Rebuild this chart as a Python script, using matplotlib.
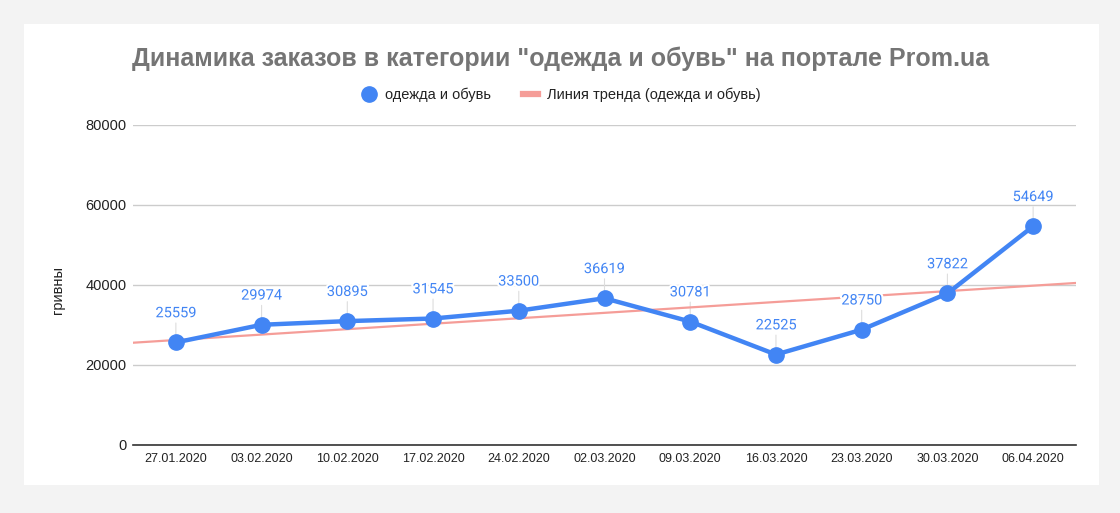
import numpy as np
import matplotlib
matplotlib.use('Agg')
import matplotlib.pyplot as plt
import matplotlib.patheffects as pe
from matplotlib.lines import Line2D
from matplotlib.patches import Rectangle

# data
dates = ['27.01.2020', '03.02.2020', '10.02.2020', '17.02.2020', '24.02.2020',
         '02.03.2020', '09.03.2020', '16.03.2020', '23.03.2020', '30.03.2020',
         '06.04.2020']
orders = [25559, 29974, 30895, 31545, 33500, 36619, 30781, 22525, 28750, 37822, 54649]
y_ticks = [0, 20000, 40000, 60000, 80000]

title = 'Динамика заказов в категории "одежда и обувь" на портале Prom.ua'
series_name = 'одежда и обувь'
trend_name = 'Линия тренда (одежда и обувь)'

blue = '#4285f4'
trend_color = '#f59d98'

plt.rcParams['font.family'] = ['Liberation Sans', 'DejaVu Sans']

fig = plt.figure(figsize=(11.2, 5.13), dpi=100, facecolor='#f3f3f3')
fig.patches.append(Rectangle((24 / 1120, 1 - 485 / 513), (1099 - 24) / 1120, (485 - 24) / 513,
                             transform=fig.transFigure, facecolor='white', edgecolor='none', zorder=-5))

ax = fig.add_axes([133 / 1120, 1 - 444.5 / 513, (1076 - 133) / 1120, (444.5 - 125) / 513])
ax.set_facecolor('none')

x = np.arange(len(dates))

# trend line (linear fit), spans the whole plot width
k, b = np.polyfit(x, orders, 1)
tx = np.array([-0.5, len(dates) - 0.5])
ax.plot(tx, k * tx + b, color=trend_color, lw=1.6, zorder=2)

ax.plot(x, orders, color=blue, lw=3.2, marker='o', ms=11, zorder=3, solid_capstyle='round')

for xi, v in zip(x, orders):
    # thin leader line under the series
    ax.annotate('', xy=(xi, v), xytext=(0, 14), textcoords='offset points',
                arrowprops=dict(arrowstyle='-', color='#dddddd', lw=0.8, shrinkA=0, shrinkB=0),
                zorder=1.5)
    ax.annotate(str(v), xy=(xi, v), xytext=(0, 21), textcoords='offset points',
                ha='center', va='center', color=blue, fontsize=10.5, family='Roboto',
                path_effects=[pe.withStroke(linewidth=3, foreground='white')], zorder=4)

ax.set_xlim(-0.5, len(dates) - 0.5)
ax.set_ylim(0, 80000)
ax.set_yticks(y_ticks)
ax.set_yticklabels([str(t) for t in y_ticks], fontsize=10.5, color='#222222')
ax.set_xticks(x)
ax.set_xticklabels(dates, fontsize=9, color='#222222')
ax.tick_params(axis='y', length=0, pad=4.5)
ax.tick_params(axis='x', length=0, pad=6)
ax.grid(axis='y', color='#cccccc', lw=1)
ax.set_axisbelow(True)
for s in ['top', 'right', 'left']:
    ax.spines[s].set_visible(False)
ax.spines['bottom'].set_color('#333333')
ax.spines['bottom'].set_linewidth(1.2)

fig.text(58 / 1120, 1 - 290 / 513, 'гривны', rotation=90, ha='center', va='center',
         fontsize=10.5, color='#222222')

fig.text(561 / 1120, 1 - 59 / 513, title, ha='center', va='center',
         fontsize=18, fontweight='bold', color='#757575')

handles = [Line2D([], [], color=blue, marker='o', ls='none', ms=11),
           Line2D([], [], color=trend_color, lw=4.5)]
fig.legend(handles, [series_name, trend_name], loc='center', bbox_to_anchor=(561 / 1120, 1 - 95 / 513),
           ncol=2, frameon=False, fontsize=10.5, handlelength=1.0, handletextpad=0.6,
           columnspacing=2.2, labelcolor='#222222')

fig.savefig('out.png', dpi=100, facecolor=fig.get_facecolor())
